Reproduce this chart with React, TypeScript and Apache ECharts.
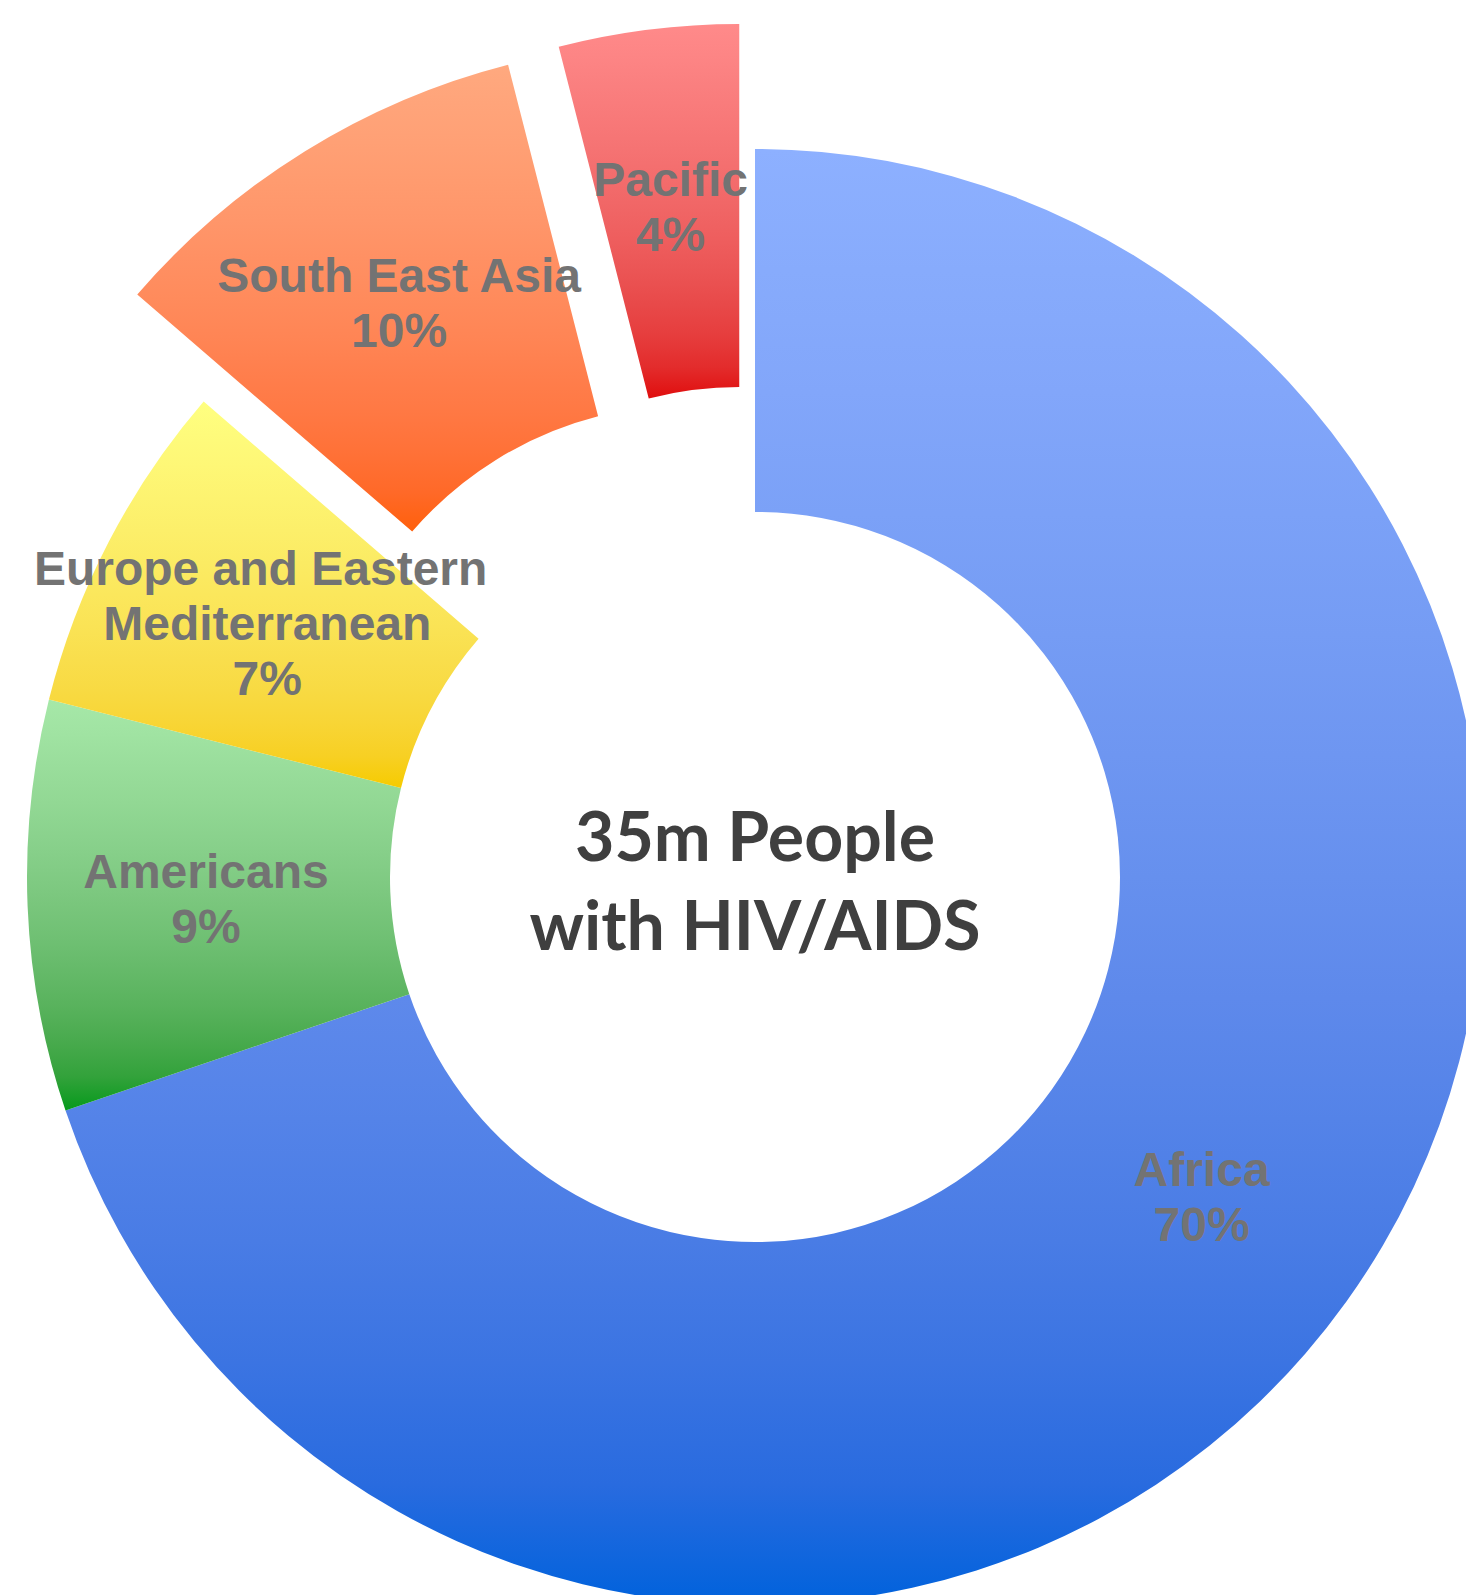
import React, { useEffect, useRef } from "react";
import * as echarts from "echarts";

const categories = ["Africa", "Americans", "Europe and Eastern Mediterranean", "South East Asia", "Pacific"];
const values = [24.5, 3.2, 2.6, 3.4, 1.4];
const explodedFlags = [false, false, false, true, true];
const topColors = ["#8DB0FF", "#A6E8A8", "#FFFF80", "#FFA97F", "#FF8A8A"];
const bottomColors = ["#0062DC", "#069A1C", "#F6CB00", "#FF600C", "#E00E0E"];
const centerLines = ["35m People", "with HIV/AIDS"];

function toLin(c: number) {
  const s = c / 255;
  return s <= 0.04045 ? s / 12.92 : Math.pow((s + 0.055) / 1.055, 2.4);
}
function toSrgb(l: number) {
  const s = l <= 0.0031308 ? l * 12.92 : 1.055 * Math.pow(l, 1 / 2.4) - 0.055;
  return Math.round(Math.max(0, Math.min(1, s)) * 255);
}
function hexRgb(h: string) {
  const n = parseInt(h.slice(1), 16);
  return [(n >> 16) & 255, (n >> 8) & 255, n & 255];
}
function gradientStops(a: string, b: string) {
  const ca = hexRgb(a).map(toLin);
  const cb = hexRgb(b).map(toLin);
  const stops = [];
  const n = 12;
  for (let i = 0; i <= n; i++) {
    const t = i / n;
    const c = ca.map((v, k) => toSrgb(v + (cb[k] - v) * t));
    stops.push({ offset: t, color: `rgb(${c[0]},${c[1]},${c[2]})` });
  }
  return stops;
}

export default function App() {
  const ref = useRef<HTMLDivElement>(null);
  useEffect(() => {
    if (!ref.current) return;
    const chart = echarts.init(ref.current, null, { renderer: "svg" });
    const data = categories.map((name, i) => {
      const item: any = {
        name,
        value: values[i],
        selected: explodedFlags[i],
        itemStyle: {
          color: new echarts.graphic.LinearGradient(0, 0, 0, 1, gradientStops(topColors[i], bottomColors[i])),
        },
      };
      if (name.length > 20) {
        item.label = { width: 470, overflow: "break" };
      }
      return item;
    });
    chart.setOption({
      animation: false,
      backgroundColor: "#ffffff",
      series: [
        {
          type: "pie",
          center: [755, 877],
          radius: [365, 728],
          startAngle: 90,
          clockwise: true,
          selectedMode: "multiple",
          selectedOffset: 126,
          avoidLabelOverlap: false,
          silent: true,
          itemStyle: { borderWidth: 0 },
          emphasis: { disabled: true },
          select: { disabled: false, itemStyle: { borderWidth: 0 } },
          label: {
            show: true,
            position: "inside",
            color: "#737373",
            fontFamily: "'Liberation Sans', Arial, sans-serif",
            fontWeight: "bold",
            fontSize: 48,
            lineHeight: 55,
            align: "center",
            formatter: (p: any) => `${p.name}\n${Math.round(p.percent)}%`,
          },
          labelLine: { show: false },
          labelLayout: { hideOverlap: false },
          data,
        },
      ],
      graphic: [
        {
          type: "text",
          x: 755,
          y: 879,
          style: {
            text: centerLines.join("\n"),
            fill: "#3f3f3f",
            font: "bold 68px Lato, 'Open Sans', sans-serif",
            lineHeight: 89,
            align: "center",
            verticalAlign: "middle",
          },
        },
      ],
    });
    return () => chart.dispose();
  }, []);
  return (
    <div
      ref={ref}
      style={{ position: "absolute", left: 0, top: 0, width: 1466, height: 1595 }}
    />
  );
}
